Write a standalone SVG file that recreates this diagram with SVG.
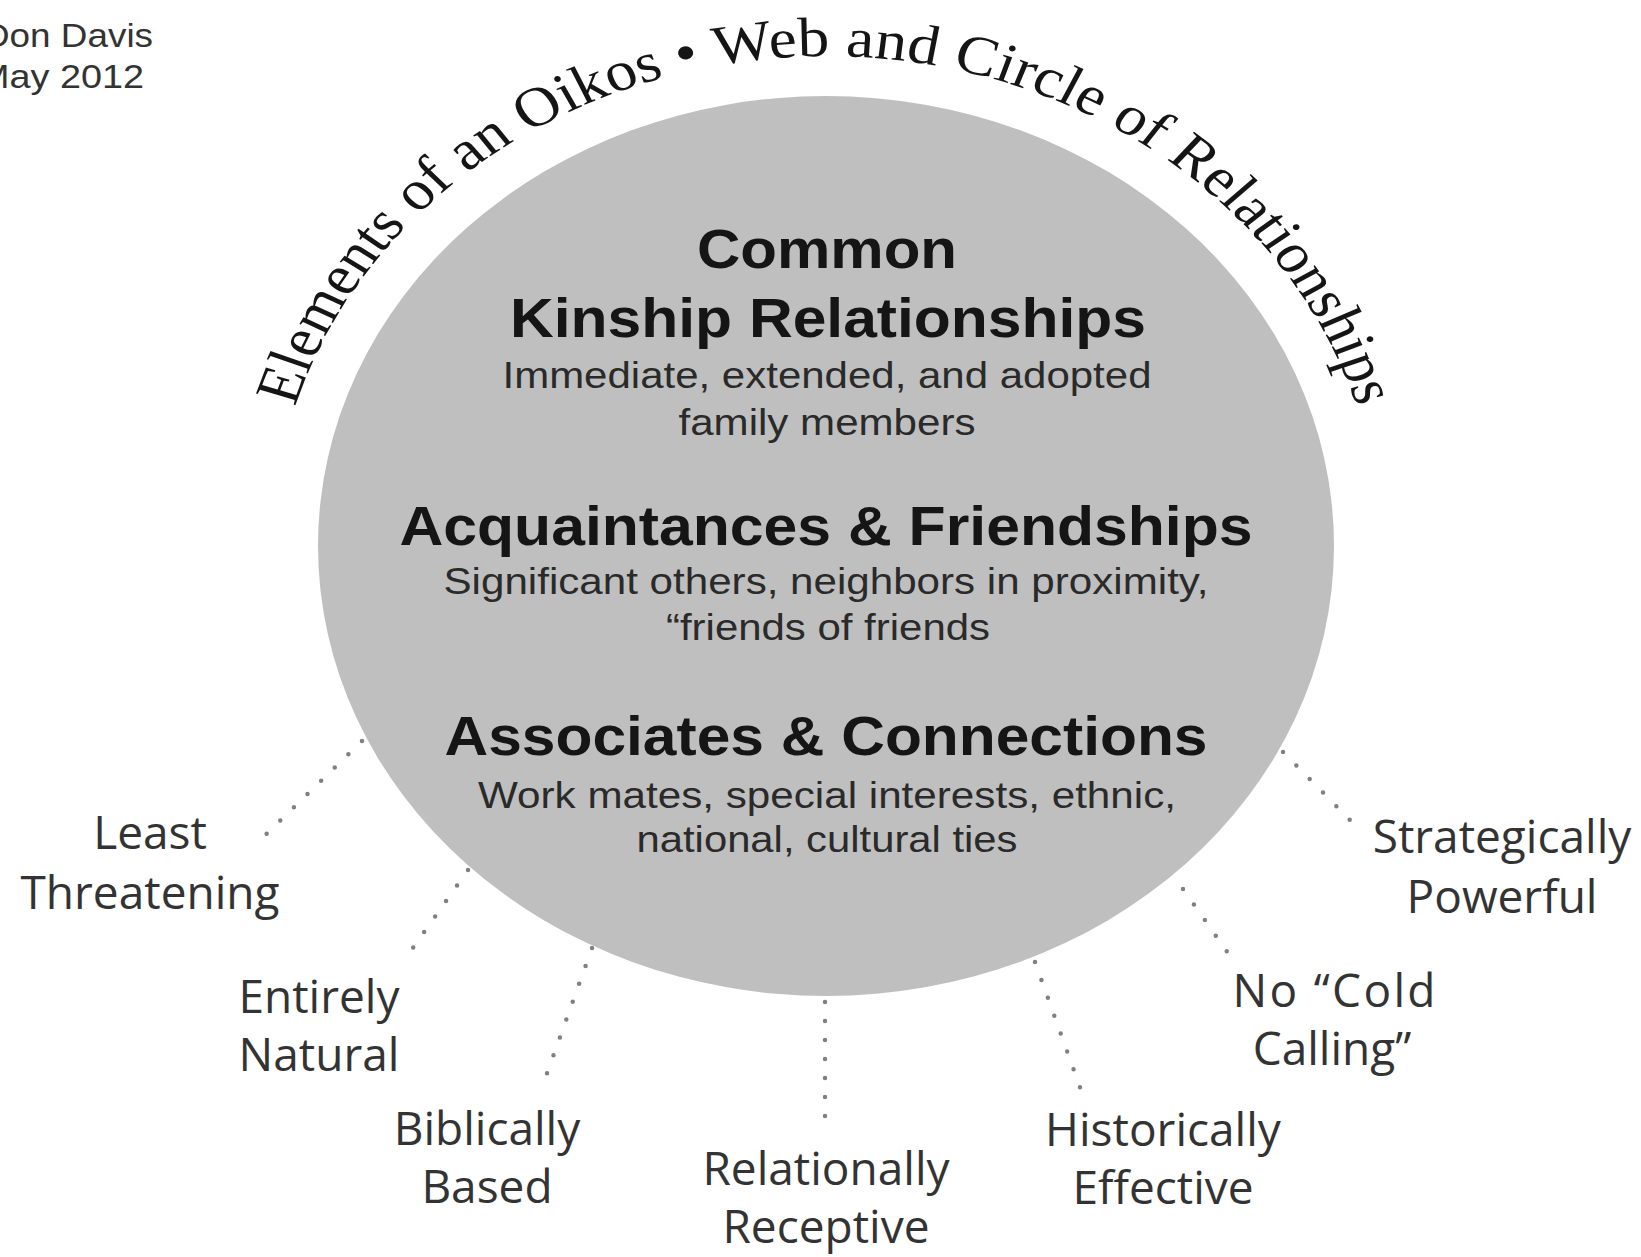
<svg xmlns="http://www.w3.org/2000/svg" width="1641" height="1257" viewBox="0 0 1641 1257">
<style>
.h{font-family:"Liberation Sans",Arial,sans-serif;font-weight:bold;font-size:55px;fill:#151515;text-anchor:middle}
.s{font-family:"Liberation Sans",Arial,sans-serif;font-size:36px;fill:#2a2a2a;text-anchor:middle}
.lbl{font-family:"Open Sans",sans-serif;font-size:46px;fill:#333333;text-anchor:middle}
.dot{stroke:#808080;stroke-width:4.5;stroke-linecap:round;stroke-dasharray:0 19;fill:none}
.title{font-family:"Liberation Serif","Times New Roman",serif;font-size:56px;fill:#151515}
.auth{font-family:"Liberation Sans",Arial,sans-serif;font-size:34px;fill:#333333}
</style>
<defs>
<path id="arc" d="M 401.6 791 A 490 490 0 1 1 1250.4 791"/>
</defs>
<rect width="1641" height="1257" fill="#ffffff"/>
<g id="author">
<text class="auth" x="-17" y="47" textLength="170" lengthAdjust="spacingAndGlyphs">Don Davis</text>
<text class="auth" x="-22" y="88" textLength="166" lengthAdjust="spacingAndGlyphs">May 2012</text>
</g>
<g id="oikos">
<ellipse cx="826" cy="546" rx="508" ry="450" fill="#bfbfbf"/>
<text class="h" x="827" y="268" textLength="260" lengthAdjust="spacingAndGlyphs">Common</text>
<text class="h" x="828" y="337" textLength="636" lengthAdjust="spacingAndGlyphs">Kinship Relationships</text>
<text class="s" x="827" y="388" textLength="649" lengthAdjust="spacingAndGlyphs">Immediate, extended, and adopted</text>
<text class="s" x="827" y="435" textLength="297" lengthAdjust="spacingAndGlyphs">family members</text>
<text class="h" x="826" y="545" textLength="853" lengthAdjust="spacingAndGlyphs">Acquaintances &amp; Friendships</text>
<text class="s" x="826" y="594" textLength="765" lengthAdjust="spacingAndGlyphs">Significant others, neighbors in proximity,</text>
<text class="s" x="828" y="640" textLength="324" lengthAdjust="spacingAndGlyphs">“friends of friends</text>
<text class="h" x="826" y="755" textLength="763" lengthAdjust="spacingAndGlyphs">Associates &amp; Connections</text>
<text class="s" x="827" y="808" textLength="698" lengthAdjust="spacingAndGlyphs">Work mates, special interests, ethnic,</text>
<text class="s" x="827" y="852" textLength="381" lengthAdjust="spacingAndGlyphs">national, cultural ties</text>
</g>
<g id="title" transform="matrix(1.13 0 0 1 -107.38 0)">
<text class="title"><textPath href="#arc" startOffset="1026" text-anchor="middle">Elements of an Oikos • Web and Circle of Relationships</textPath></text>
</g>
<g id="connectors">
<line class="dot" x1="362" y1="741" x2="254" y2="846"/>
<line class="dot" x1="468" y1="870" x2="403" y2="962"/>
<line class="dot" x1="592" y1="948" x2="541" y2="1090"/>
<line class="dot" x1="825" y1="1002" x2="825" y2="1117"/>
<line class="dot" x1="1035" y1="962" x2="1081" y2="1090"/>
<line class="dot" x1="1183" y1="889" x2="1228" y2="953"/>
<line class="dot" x1="1283" y1="752" x2="1350" y2="820"/>
</g>
<g id="least-threatening"><text class="lbl" x="150" y="849">Least</text><text class="lbl" x="150" y="909">Threatening</text></g>
<g id="entirely-natural"><text class="lbl" x="319" y="1013">Entirely</text><text class="lbl" x="319" y="1071">Natural</text></g>
<g id="biblically-based"><text class="lbl" x="487" y="1145">Biblically</text><text class="lbl" x="487" y="1203">Based</text></g>
<g id="relationally-receptive"><text class="lbl" x="826" y="1185">Relationally</text><text class="lbl" x="826" y="1243">Receptive</text></g>
<g id="historically-effective"><text class="lbl" x="1163" y="1146">Historically</text><text class="lbl" x="1163" y="1204">Effective</text></g>
<g id="no-cold-calling"><text class="lbl" x="1334" y="1007" textLength="203" lengthAdjust="spacing">No “Cold</text><text class="lbl" x="1332" y="1065">Calling”</text></g>
<g id="strategically-powerful"><text class="lbl" x="1502" y="853">Strategically</text><text class="lbl" x="1502" y="913">Powerful</text></g>
</svg>
